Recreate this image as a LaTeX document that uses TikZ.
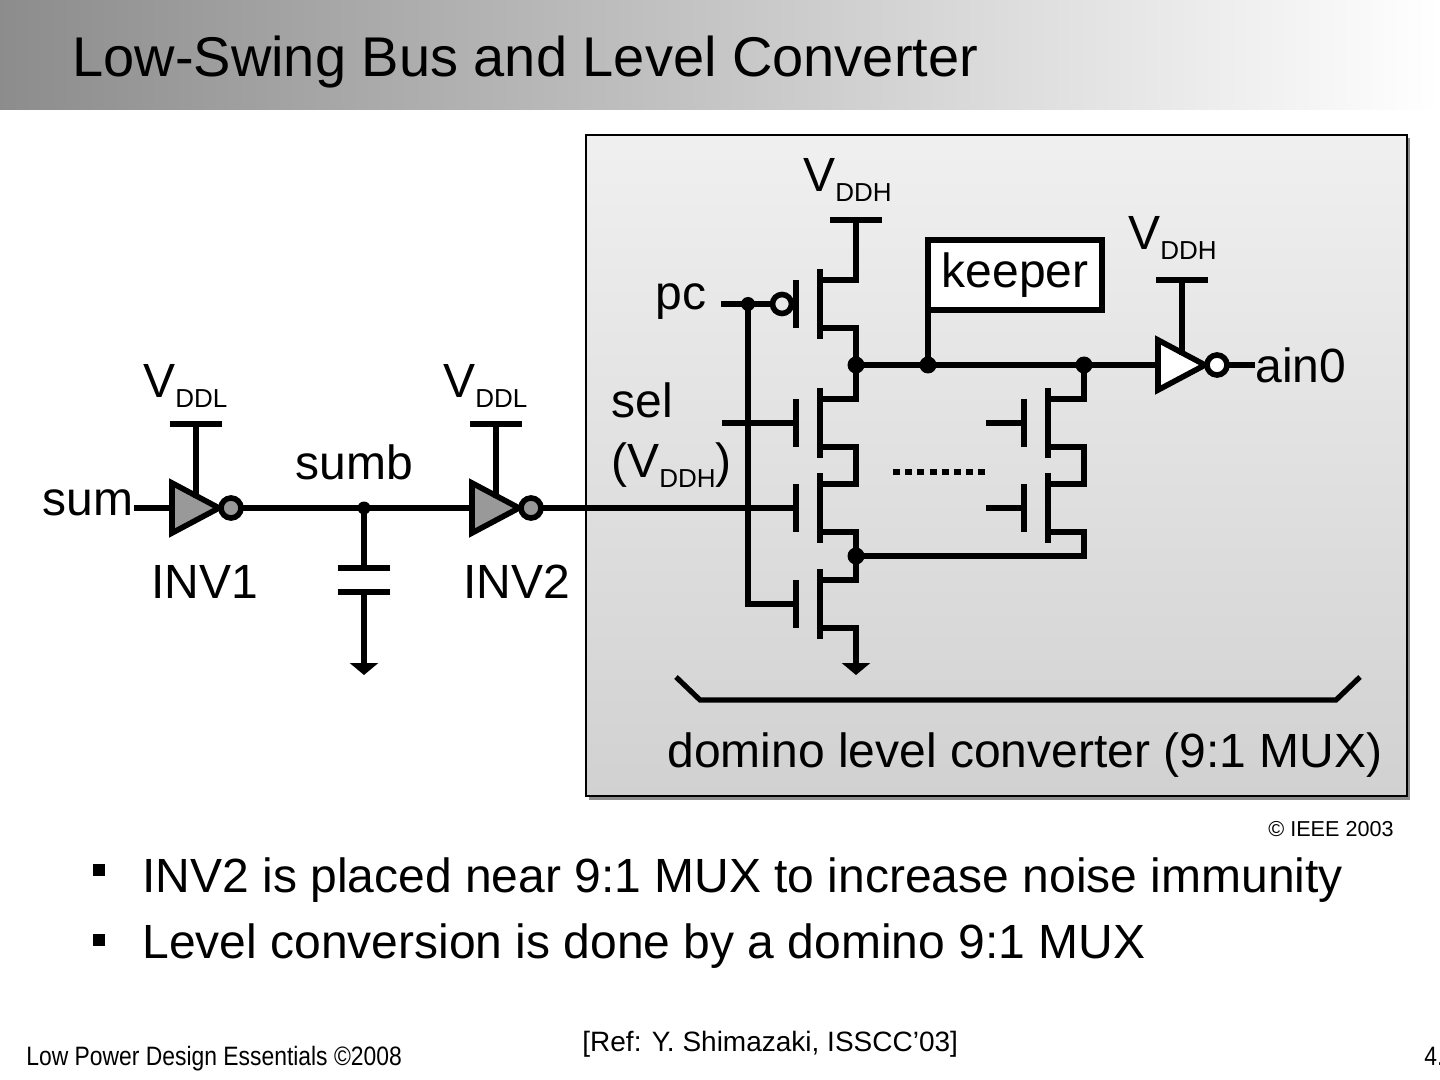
\documentclass[tikz,border=0pt]{standalone}
\usepackage{fontspec}
\setmainfont{Liberation Sans}
\usepackage{graphicx}
\usetikzlibrary{arrows.meta}

\newcommand{\vsub}[1]{V\raisebox{-5pt}{\fontsize{13}{13}\selectfont #1}}

\tikzset{
  wire/.style={line width=2.6pt, line cap=rect},
  chan/.style={line width=3.3pt},
  dot/.style={circle, fill=black, inner sep=0pt, minimum size=8.5pt},
  lbl/.style={inner sep=0pt, anchor=base west, font=\fontsize{24}{28}\selectfont},
  gnd/.style={line width=2.6pt, -{Triangle[width=14pt,length=6pt]}},
  fet/.pic={
    \draw[chan] (0,-35) -- (0,35);
    \draw[line width=2.8pt] (-24,-24) -- (-24,24);
    \draw[wire] (0,-24) -- (36,-24) (0,24) -- (36,24);
    \coordinate (-d) at (36,-24);
    \coordinate (-s) at (36,24);
    \coordinate (-g) at (-24,0);
  },
  pfet/.pic={
    \draw[chan] (0,-35) -- (0,35);
    \draw[line width=2.8pt] (-24,-24) -- (-24,24);
    \draw[wire] (0,-24) -- (36,-24) (0,24) -- (36,24);
    \draw[line width=2.8pt] (-38,0) circle (9.5);
    \coordinate (-d) at (36,-24);
    \coordinate (-s) at (36,24);
    \coordinate (-g) at (-48,0);
  },
  inv/.pic={
    \draw[line width=2.8pt, line join=miter, pic actions] (0,-25) -- (0,25) -- (47,0) -- cycle;
    \draw[line width=2.8pt, pic actions] (59,0) circle (10);
    \coordinate (-in) at (0,0);
    \coordinate (-out) at (69,0);
    \coordinate (-vdd) at (24,-13);
  }
}

\begin{document}
\begin{tikzpicture}[x=0.5pt, y=-0.5pt]
\useasboundingbox (0,0) rectangle (1440,1080);

% title bar
\shade[left color=black!45, right color=white] (0,0) rectangle (1440,110);
\node[lbl, font=\fontsize{28}{32}\selectfont] (title) at (72,77) {Low-Swing Bus and Level Converter};

% converter box
\fill[black!45] (589,138) rectangle (1410,800);
\draw[line width=0.8pt, top color=black!6, bottom color=black!18] (586,135) rectangle (1407,796);

% low swing bus
\pic[fill=black!40] (inva) at (172,508) {inv};
\pic[fill=black!40] (invb) at (472,508) {inv};
\node[dot, minimum size=6.5pt] (sumb) at (364,508) {};
\draw[wire] (inva-in) -- ++(-35,0);
\draw[wire] (inva-out) -- (sumb.center) -- (invb-in);
\draw[wire] (inva-vdd) -- ++(0,-71) coordinate (vdda) ++(-23,0) -- ++(46,0);
\draw[wire] (invb-vdd) -- ++(0,-71) coordinate (vddb) ++(-23,0) -- ++(46,0);
\draw[wire] (sumb.center) -- (364,568) coordinate (capa) ++(-23,0) -- ++(46,0);
\draw[wire] (364,592) coordinate (capb) ++(-23,0) -- ++(46,0);
\draw[gnd] (capb) -- ++(0,83);

\node[lbl] (vddla) at (143,398) {\vsub{DDL}};
\node[lbl] (vddlb) at (443,398) {\vsub{DDL}};
\node[lbl] (sum) at (42,515) {sum};
\node[lbl] (sumblbl) at (295,480) {sumb};
\node[lbl] (inv1) at (151,598) {INV1};
\node[lbl] (inv2) at (463,598) {INV2};

% domino mux
\pic (mp) at (820,304) {pfet};
\pic (ms) at (820,423) {fet};
\pic (md) at (820,508) {fet};
\pic (mf) at (820,604) {fet};
\pic (ns) at (1048,423) {fet};
\pic (nd) at (1048,508) {fet};
\pic[fill=white] (invc) at (1158,365) {inv};

\node[dot] (dyn) at (856,365) {};
\node[dot] (dkeep) at (928,365) {};
\node[dot] (dright) at (1084,365) {};
\node[dot] (foot) at (856,556) {};
\node[dot, minimum size=7pt] (pcdot) at (748,304) {};
\node[draw, line width=3pt, fill=white, minimum width=87pt, minimum height=35pt,
      inner sep=0pt, font=\fontsize{24}{28}\selectfont] (keeper) at (1015,275) {keeper};

\draw[wire] (mp-d) -- ++(0,-60) coordinate (vddh) ++(-23,0) -- ++(46,0);
\draw[wire] (mp-s) -- (dyn.center) -- (ms-d);
\draw[wire] (ms-s) -- (md-d);
\draw[wire] (md-s) -- (foot.center) -- (mf-d);
\draw[gnd] (mf-s) -- ++(0,47);
\draw[wire] (dyn.center) -- (dkeep.center) -- (dright.center) -- (invc-in);
\draw[wire] (dkeep.center) -- (dkeep |- keeper.south);
\draw[wire] (dright.center) -- (ns-d);
\draw[wire] (ns-s) -- (nd-d);
\draw[wire] (nd-s) |- (foot.center);
\draw[wire] (invc-out) -- ++(25,0);
\draw[wire] (invc-vdd) -- ++(0,-72) coordinate (vddr) ++(-23,0) -- ++(46,0);
\draw[wire] (mp-g) -- (pcdot.center) -- ++(-24,0);
\draw[wire] (pcdot.center) |- (mf-g);
\draw[wire] (ms-g) -- ++(-71,0);
\draw[wire] (invb-out) -- (md-g);
\draw[wire] (ns-g) -- ++(-35,0);
\draw[wire] (nd-g) -- ++(-35,0);
\draw[line width=3pt, dash pattern=on 3.5pt off 2.6pt] (893,472) -- (987,472);
\draw[line width=2.6pt, line join=miter] (676,677) -- (700,700) -- (1336,700) -- (1360,677);

\node[lbl] (vddhtop) at (803,192) {\vsub{DDH}};
\node[lbl] (vddhinv) at (1128,250) {\vsub{DDH}};
\node[lbl] (pc) at (655,310) {pc};
\node[lbl] (sel) at (611,418) {sel};
\node[lbl] (selv) at (611,478) {(\vsub{DDH})};
\node[lbl] (ain) at (1255,383) {ain0};
\node[lbl] (mux) at (667,767) {domino level converter (9:1 MUX)};
\node[inner sep=0pt, anchor=base west, font=\fontsize{10.8}{12}\selectfont] (ieee) at (1268,836) {© IEEE 2003};

% bullets
\node[fill=black, inner sep=0pt, minimum size=6.3pt] (sqa) at (99,870) {};
\node[fill=black, inner sep=0pt, minimum size=6.3pt] (sqb) at (99,940) {};
\node[lbl] (bulla) at (142,892) {INV2 is placed near 9:1 MUX to increase noise immunity};
\node[lbl] (bullb) at (142,958) {Level conversion is done by a domino 9:1 MUX};

% footer
\node[inner sep=0pt, anchor=base west, font=\fontsize{13.3}{15}\selectfont] (footer) at (26,1065) {\scalebox{0.86}[1]{Low Power Design Essentials ©2008}};
\node[inner sep=0pt, anchor=base west, font=\fontsize{14}{16}\selectfont] (ref) at (582,1051) {[Ref: Y. Shimazaki, ISSCC’03]};
\node[inner sep=0pt, anchor=base west, font=\fontsize{13.3}{15}\selectfont] (page) at (1424,1065) {\scalebox{0.86}[1]{4.}};
\end{tikzpicture}
\end{document}
